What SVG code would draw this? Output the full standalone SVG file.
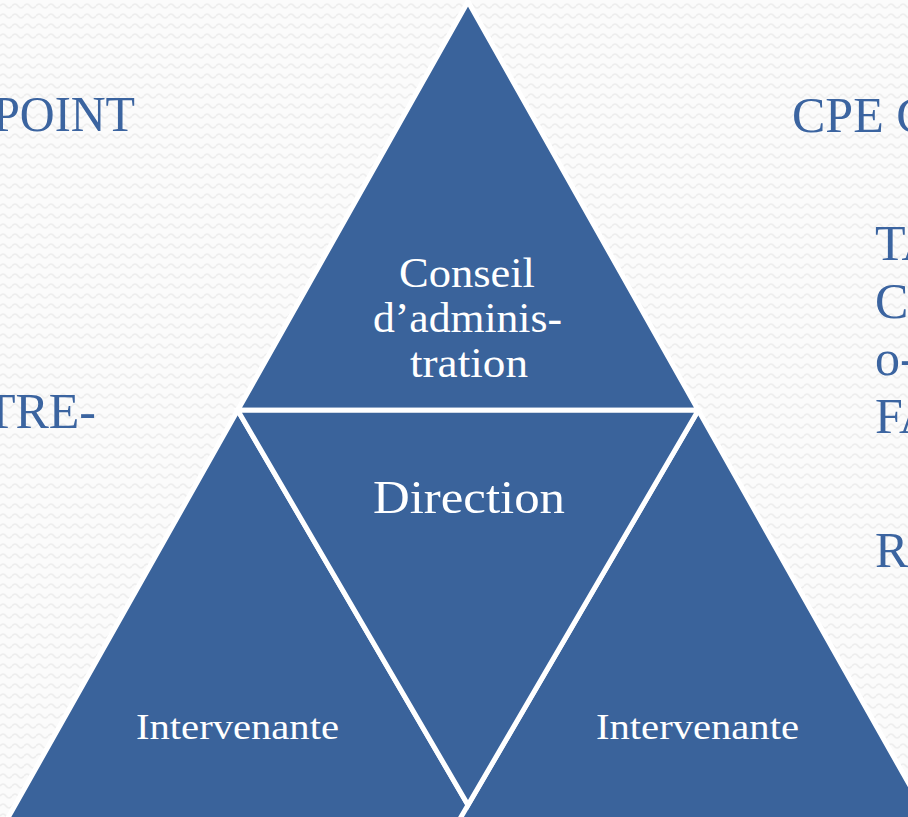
<svg xmlns="http://www.w3.org/2000/svg" width="908" height="817" viewBox="0 0 908 817">
  <defs>
    <pattern id="bg" width="12" height="10" patternUnits="userSpaceOnUse">
      <rect width="12" height="10" fill="#FBFBFB"/>
      <path d="M0,6 Q3,2 6,6 T12,6" fill="none" stroke="#EDEDED" stroke-width="1.6"/>
    </pattern>
  </defs>
  <style>
    .tri { fill: #3A639B; stroke: #FFFFFF; stroke-width: 5; stroke-linejoin: miter; }
    .in { font-family: "Liberation Serif", "Times New Roman", serif; fill: #FFFFFF; text-anchor: middle; }
    .out { font-family: "Liberation Serif", "Times New Roman", serif; fill: #3B64A0; font-size: 50px; }
  </style>
  <rect width="908" height="817" fill="url(#bg)"/>

  <g id="side-texts">
    <text class="out" x="135" y="131" text-anchor="end" textLength="142" lengthAdjust="spacingAndGlyphs">POINT</text>
    <text class="out" x="96" y="428" text-anchor="end">TRE-</text>
    <text class="out" x="792" y="132">CPE C</text>
    <text class="out" x="875" y="260">TA</text>
    <text class="out" x="875" y="318">CO</text>
    <text class="out" x="875" y="375">o-</text>
    <text class="out" x="875" y="433">FA</text>
    <text class="out" x="875" y="567">RE</text>
  </g>

  <g id="node-conseil">
    <polygon class="tri" points="468,1.6 237.7,410.3 698.3,410.3"/>
    <text class="in" x="467" y="287" font-size="43" textLength="136" lengthAdjust="spacingAndGlyphs">Conseil</text>
    <text class="in" x="467.5" y="332" font-size="43" textLength="189" lengthAdjust="spacingAndGlyphs">d’adminis-</text>
    <text class="in" x="469" y="377" font-size="43" textLength="118" lengthAdjust="spacingAndGlyphs">tration</text>
  </g>

  <g id="node-intervenante-left">
    <polygon class="tri" points="237.7,410.3 5.6,822 477.9,822"/>
    <text class="in" x="237.5" y="739" font-size="36" textLength="203" lengthAdjust="spacingAndGlyphs">Intervenante</text>
  </g>

  <g id="node-intervenante-right">
    <polygon class="tri" points="698.3,410.3 458.1,822 930.4,822"/>
    <text class="in" x="697.5" y="739" font-size="36" textLength="203" lengthAdjust="spacingAndGlyphs">Intervenante</text>
  </g>

  <g id="node-direction">
    <polygon class="tri" points="237.7,410.3 698.3,410.3 468,805"/>
    <text class="in" x="469" y="513" font-size="46" textLength="192" lengthAdjust="spacingAndGlyphs">Direction</text>
  </g>

  <g id="connectors"></g>
</svg>
